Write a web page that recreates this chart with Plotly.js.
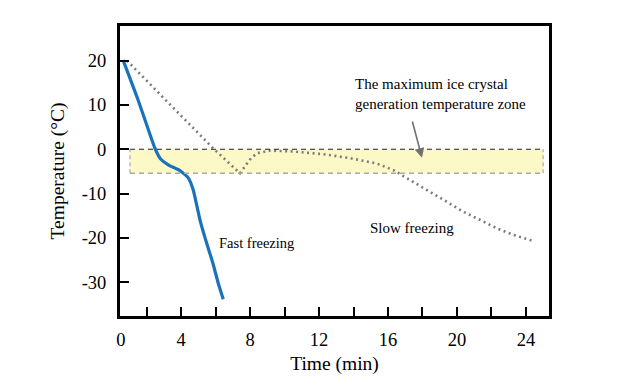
<!DOCTYPE html>
<html>
<head>
<meta charset="utf-8">
<script src="https://cdn.plot.ly/plotly-3.0.1.min.js"></script>
<style>html,body{margin:0;padding:0;background:#fff;}#chart{width:620px;height:388px;}</style>
</head>
<body>
<div id="chart"></div>
<script>
// Fast freezing curve (time in min, temperature in °C)
var fastTime = [0.63, 1.5, 2.1, 2.48, 2.77, 3.25, 3.93, 4.42, 4.7, 4.9, 5.09, 5.28, 5.48, 5.84, 6.15, 6.44];
var fastTemp = [20.1, 11.1, 4.35, 0.2, -2.0, -3.5, -4.8, -6.5, -9.2, -12.6, -15.9, -18.6, -21.2, -25.7, -30.2, -33.8];

// Slow freezing curve
var slowTime = [0.85, 5.86, 7.41, 7.97, 8.38, 9.15, 10.5, 12.24, 13.79, 15.34, 16.31, 16.69, 17.47, 18.43, 19.4, 20.37, 21.33, 22.3, 23.27, 24.52];
var slowTemp = [20.0, 0.2, -5.4, -2.4, -0.9, -0.3, -0.5, -1.1, -2.0, -3.2, -4.7, -5.6, -7.3, -9.6, -11.8, -14.1, -15.9, -17.8, -19.3, -20.8];

// Maximum ice crystal generation temperature zone
var zoneTop = 0;
var zoneBottom = -5.4;
var zoneStart = 1.03;
var zoneEnd = 25.0;

// Tick labels
var xTickVals = [0.5, 2, 4, 6, 8, 10, 12, 14, 16, 18, 20, 22, 24];
var xTickText = ["0", "", "4", "", "8", "", "12", "", "16", "", "20", "", "24"];
var yTickVals = [20, 10, 0, -10, -20, -30];
var yTickText = ["20", "10", "0", "-10", "-20", "-30"];

var serif = "Liberation Serif, Times New Roman, serif";

var traces = [
  {
    x: slowTime, y: slowTemp, mode: "lines", name: "Slow freezing",
    line: {color: "#7c7c7c", width: 2.6, dash: "2px,3.5px"}, hoverinfo: "x+y"
  },
  {
    x: fastTime, y: fastTemp, mode: "lines", name: "Fast freezing",
    line: {color: "#1a72bb", width: 3.2, shape: "spline", smoothing: 0.5}, hoverinfo: "x+y"
  }
];

var layout = {
  width: 620, height: 388,
  margin: {l: 120, r: 71, t: 26, b: 72},
  paper_bgcolor: "#fff", plot_bgcolor: "#fff",
  showlegend: false,
  font: {family: serif, color: "#000", size: 18},
  xaxis: {
    range: [0.45, 25.34],
    tickvals: xTickVals, ticktext: xTickText,
    ticks: "inside", ticklen: 9, tickwidth: 2, tickcolor: "#000",
    showline: true, linewidth: 3, linecolor: "#000", mirror: true,
    showgrid: false, zeroline: false,
    tickfont: {family: serif, size: 18.5, color: "#000"},
    ticklabelstandoff: 5,
    title: {text: "Time (min)", font: {family: serif, size: 19.5, color: "#000"}, standoff: 8}
  },
  yaxis: {
    range: [-37.6, 27.8],
    tickvals: yTickVals, ticktext: yTickText,
    ticks: "inside", ticklen: 9, tickwidth: 2, tickcolor: "#000",
    showline: true, linewidth: 3, linecolor: "#000", mirror: true,
    showgrid: false, zeroline: false,
    tickfont: {family: serif, size: 18.5, color: "#000"},
    ticklabelstandoff: 7,
    title: {text: "Temperature (°C)", font: {family: serif, size: 19.5, color: "#000"}, standoff: 12}
  },
  shapes: [
    {type: "rect", xref: "x", yref: "y", x0: zoneStart, x1: zoneEnd, y0: zoneBottom, y1: zoneTop,
     fillcolor: "#fcf9c6", line: {width: 0}, layer: "below"},
    {type: "line", xref: "x", yref: "y", x0: zoneStart, x1: zoneEnd, y0: zoneTop, y1: zoneTop,
     line: {color: "#222", width: 1.2, dash: "5px,4px"}},
    {type: "line", xref: "x", yref: "y", x0: zoneStart, x1: zoneEnd, y0: zoneBottom, y1: zoneBottom,
     line: {color: "#aaa", width: 1.5, dash: "5px,4px"}},
    {type: "line", xref: "x", yref: "y", x0: zoneStart, x1: zoneStart, y0: zoneBottom, y1: zoneTop,
     line: {color: "#aaa", width: 1.2, dash: "4px,3px"}},
    {type: "line", xref: "x", yref: "y", x0: zoneEnd, x1: zoneEnd, y0: zoneBottom, y1: zoneTop,
     line: {color: "#aaa", width: 1.2, dash: "4px,3px"}}
  ],
  annotations: [
    {xref: "x", yref: "y", x: 13.97, y: 12.5, xanchor: "left", yanchor: "middle", align: "left",
     text: "The maximum ice crystal<br>generation temperature zone", showarrow: false,
     font: {family: serif, size: 15, color: "#000"}},
    {xref: "x", yref: "y", axref: "x", ayref: "y", x: 17.97, y: -1.9, ax: 17.39, ay: 6.6,
     text: "", showarrow: true, arrowhead: 2, arrowsize: 1.2, arrowwidth: 1.6, arrowcolor: "#707070"},
    {xref: "x", yref: "y", x: 6.06, y: -21.1, xanchor: "left", yanchor: "middle",
     text: "Fast freezing", showarrow: false, font: {family: serif, size: 14.5, color: "#000"}},
    {xref: "x", yref: "y", x: 14.85, y: -17.8, xanchor: "left", yanchor: "middle",
     text: "Slow freezing", showarrow: false, font: {family: serif, size: 15, color: "#000"}}
  ]
};

Plotly.newPlot("chart", traces, layout, {displayModeBar: false, staticPlot: true});
</script>
</body>
</html>
